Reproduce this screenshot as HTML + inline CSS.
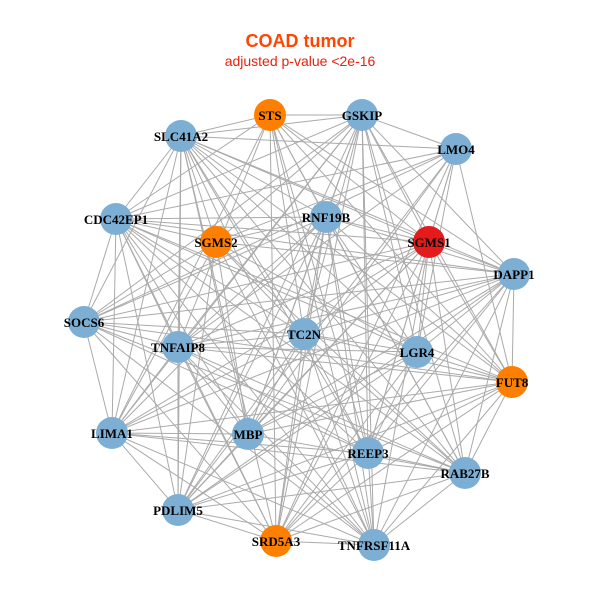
<!DOCTYPE html>
<html><head><meta charset="utf-8"><style>
html,body{margin:0;padding:0;background:#fff;}
svg text{font-family:"Liberation Serif",serif;font-weight:bold;font-size:13px;text-anchor:middle;}
</style></head><body>
<svg id="s" width="600" height="600" viewBox="0 0 600 600" xmlns="http://www.w3.org/2000/svg">
<rect width="600" height="600" fill="#fff"/>
<text x="300" y="47" style="font-family:'Liberation Sans',sans-serif;font-size:18px;fill:#FF4500">COAD tumor</text>
<text x="300" y="66" style="font-family:'Liberation Sans',sans-serif;font-weight:normal;font-size:14px;fill:#E8200C">adjusted p-value &lt;2e-16</text>
<g id="edges" stroke="#aaaaaa" stroke-width="1"></g>
<g id="nodes"></g>
<g id="labels">
<text x="270" y="120">STS</text>
<text x="362" y="120">GSKIP</text>
<text x="181" y="141">SLC41A2</text>
<text x="456" y="154">LMO4</text>
<text x="116" y="224">CDC42EP1</text>
<text x="326" y="222">RNF19B</text>
<text x="216" y="247">SGMS2</text>
<text x="429" y="247">SGMS1</text>
<text x="514" y="279">DAPP1</text>
<text x="84" y="327">SOCS6</text>
<text x="178" y="352">TNFAIP8</text>
<text x="304" y="339">TC2N</text>
<text x="417" y="357">LGR4</text>
<text x="512" y="387">FUT8</text>
<text x="112" y="438">LIMA1</text>
<text x="248" y="439">MBP</text>
<text x="368" y="458">REEP3</text>
<text x="465" y="478">RAB27B</text>
<text x="178" y="515">PDLIM5</text>
<text x="276" y="546">SRD5A3</text>
<text x="374" y="550">TNFRSF11A</text>
</g>
</svg>
<script>
var N=[[270,115,'o'],[362,115,'b'],[181,136,'b'],[456,149,'b'],[116,219,'b'],[326,217,'b'],[216,242,'o'],[429,242,'r'],[514,274,'b'],[84,322,'b'],[178,347,'b'],[304,334,'b'],[417,352,'b'],[512,382,'o'],[112,433,'b'],[248,434,'b'],[368,453,'b'],[465,473,'b'],[178,510,'b'],[276,541,'o'],[374,545,'b']];
var C={o:'#FF7F00',b:'#7DAFD5',r:'#E41A1C'};
var ns='http://www.w3.org/2000/svg',E=document.getElementById('edges'),G=document.getElementById('nodes');
for(var i=0;i<N.length;i++)for(var j=i+1;j<N.length;j++){
 if((i*7+j*3)%9==0)continue;
 var l=document.createElementNS(ns,'line');
 l.setAttribute('x1',N[i][0]);l.setAttribute('y1',N[i][1]);l.setAttribute('x2',N[j][0]);l.setAttribute('y2',N[j][1]);E.appendChild(l);}
N.forEach(function(n){var c=document.createElementNS(ns,'circle');c.setAttribute('cx',n[0]);c.setAttribute('cy',n[1]);c.setAttribute('r',16);c.setAttribute('fill',C[n[2]]);G.appendChild(c);});
</script>
</body></html>
